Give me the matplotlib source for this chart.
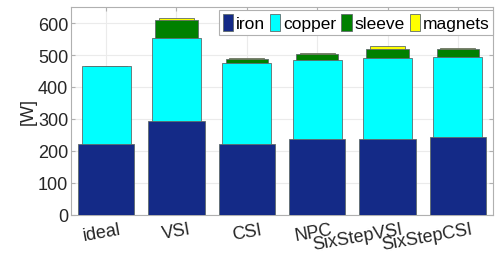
import matplotlib
matplotlib.use("Agg")
import matplotlib.pyplot as plt
import matplotlib.transforms as mtransforms
import numpy as np

categories = ["ideal", "VSI", "CSI", "NPC", "SixStepVSI", "SixStepCSI"]
iron = [221, 295, 223, 236, 236, 244]
copper = [245, 259, 253, 249, 254, 251]
sleeve = [0, 56, 13, 17, 29, 25]
magnets = [0, 7, 2, 4, 8, 3]
series_names = ["iron", "copper", "sleeve", "magnets"]
yticks = [0, 100, 200, 300, 400, 500, 600]

plt.rcParams['font.family'] = ['Liberation Sans', 'DejaVu Sans']

colors = {"iron": "#142a87", "copper": "#00ffff", "sleeve": "#008000", "magnets": "#ffff00"}
widths = {"iron": 0.8, "copper": 0.7, "sleeve": 0.6, "magnets": 0.5}

fig = plt.figure(figsize=(4.95, 2.55), dpi=100)
ax = fig.add_axes([0.1434, 0.153, 0.8526, 0.8156])

x = np.arange(1, len(categories) + 1)
c_iron = np.array(iron, dtype=float)
c_copper = c_iron + np.array(copper)
c_sleeve = c_copper + np.array(sleeve)
c_magnets = c_sleeve + np.array(magnets)
cum = {"iron": c_iron, "copper": c_copper, "sleeve": c_sleeve, "magnets": c_magnets}

handles = {}
for name in ["magnets", "sleeve", "copper", "iron"]:
    h = ax.bar(x, cum[name], width=widths[name], color=colors[name],
               edgecolor="#5f6b6b", linewidth=0.6, zorder=3, label=name)
    handles[name] = h

ax.set_xlim(0.5, 6.5)
ax.set_ylim(0, 650)
ax.set_yticks(yticks)
ax.set_xticks(x)
ax.set_xticklabels(categories)
ax.grid(True, color="#ebebeb", linewidth=0.8, zorder=0)
ax.set_axisbelow(True)
for s in ax.spines.values():
    s.set_color("#b0b0b0")
    s.set_linewidth(0.8)
ax.tick_params(direction="in", length=3, color="#b0b0b0", top=True, right=True,
               labelsize=13, labelcolor="#262626")
ax.tick_params(axis="y", pad=2)
ax.tick_params(axis="x", pad=4)
offset = mtransforms.ScaledTranslation(13 / 100, 0, fig.dpi_scale_trans)
for lab in ax.get_xticklabels():
    lab.set_rotation(10)
    lab.set_ha("right")
    lab.set_va("top")
    lab.set_rotation_mode("anchor")
    lab.set_transform(lab.get_transform() + offset)

ax.set_ylabel("[W]", fontsize=13, color="#262626", labelpad=1)

leg = ax.legend([handles[n] for n in series_names], series_names, ncol=4,
                loc="upper right", bbox_to_anchor=(1.0, 0.985), fontsize=12.5,
                handlelength=0.6, handleheight=1.15, handletextpad=0.15,
                columnspacing=0.3, borderpad=0.2, borderaxespad=0.0,
                frameon=True, fancybox=False, edgecolor="#b0b0b0", framealpha=1)
leg.get_frame().set_linewidth(0.8)

fig.savefig("out.png", dpi=100)
